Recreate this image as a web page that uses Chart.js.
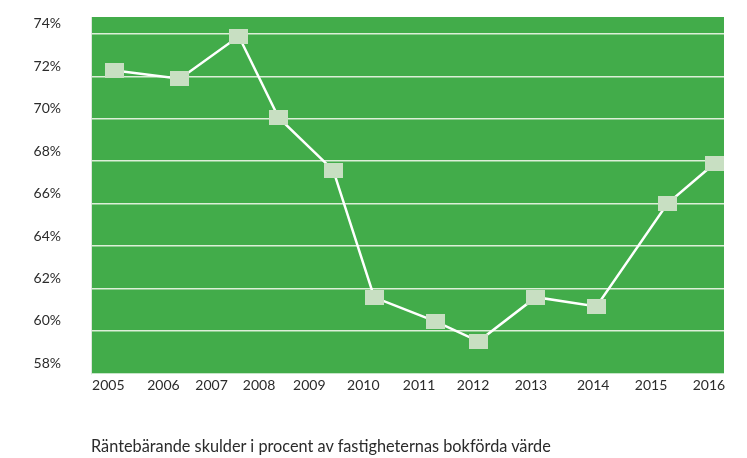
<!DOCTYPE html>
<html>
<head>
<meta charset="utf-8">
<script src="https://cdn.jsdelivr.net/npm/chart.js@4"></script>
<style>
  html, body { margin: 0; padding: 0; background: #ffffff; }
  #wrap { position: relative; width: 747px; height: 458px; }
  #caption { position: absolute; left: 91px; top: 436px; font-family: Lato, sans-serif; font-size: 16.3px; color: #2b2b2b; white-space: nowrap; line-height: 20px; }
</style>
</head>
<body>
<div id="wrap">
  <canvas id="c" width="747" height="458"></canvas>
  <div id="caption">Räntebärande skulder i procent av fastigheternas bokförda värde</div>
</div>
<script>
// Year labels on the x axis and where each label sits (in year units)
const years = ['2005','2006','2007','2008','2009','2010','2011','2012','2013','2014','2015','2016'];
const yearLabelPos = [2005, 2006.01, 2006.89, 2007.76, 2008.68, 2009.67, 2010.69, 2011.68, 2012.74, 2013.88, 2014.94, 2016];
// Where each data point sits along the x axis (in year units)
const pointPos = [2005.12, 2006.31, 2007.39, 2008.12, 2009.12, 2009.87, 2010.99, 2011.78, 2012.83, 2013.94, 2015.24, 2016.10];
// Interest-bearing debt as % of book value
const debtPct = [72.28, 71.89, 73.89, 70.05, 67.57, 61.58, 60.45, 59.51, 61.59, 61.15, 66.0, 67.89];
// Y tick labels
const yTicks = [58, 60, 62, 64, 66, 68, 70, 72, 74];

const GREEN = '#42ac4a';
const MARKER = '#c8dfc2';

// rectangular marker image
const marker = document.createElement('canvas');
marker.width = 19; marker.height = 15;
(function(){ const g = marker.getContext('2d'); g.fillStyle = MARKER; g.fillRect(0,0,19,15); })();

const plotBg = {
  id: 'plotBg',
  beforeDraw(chart) {
    const {ctx, chartArea: a} = chart;
    ctx.save();
    ctx.fillStyle = GREEN;
    ctx.fillRect(a.left, a.top, a.right - a.left, a.bottom - a.top);
    ctx.restore();
  }
};

new Chart(document.getElementById('c'), {
  type: 'line',
  data: {
    datasets: [{
      data: pointPos.map((x, i) => ({x: x, y: debtPct[i]})),
      borderColor: '#ffffff',
      borderWidth: 2.5,
      pointStyle: marker,
      pointRadius: 8,
      pointHoverRadius: 8,
      tension: 0,
      clip: false
    }]
  },
  options: {
    responsive: false,
    animation: false,
    events: [],
    layout: { padding: { left: 0, right: 23, top: 17, bottom: 54.7 } },
    plugins: { legend: { display: false }, tooltip: { enabled: false }, title: { display: false } },
    scales: {
      x: {
        type: 'linear',
        min: 2004.683,
        max: 2016.275,
        afterBuildTicks(scale) { scale.ticks = yearLabelPos.map(v => ({value: v})); },
        afterFit(scale) { scale.height = 30; scale.paddingLeft = 0; scale.paddingRight = 0; },
        grid: { display: false, drawTicks: false },
        border: { display: false },
        ticks: {
          autoSkip: false,
          maxRotation: 0,
          padding: 4,
          color: '#2b2b2b',
          font: { family: 'Lato', size: 14 },
          callback(value, index) { return years[index]; }
        }
      },
      y: {
        min: 58,
        max: 74.8,
        afterBuildTicks(scale) { scale.ticks = yTicks.map(v => ({value: v})); },
        afterFit(scale) { scale.width = 91; scale.paddingTop = 0; scale.paddingBottom = 0; },
        grid: {
          drawTicks: false,
          lineWidth: 1.5,
          color(ctx) { return ctx.tick && ctx.tick.value === 58 ? 'rgba(0,0,0,0)' : '#dcefd8'; }
        },
        border: { display: true, color: '#dde6dd', width: 1 },
        ticks: {
          padding: 30,
          labelOffset: -10,
          color: '#2b2b2b',
          font: { family: 'Lato', size: 14 },
          callback(value) { return value + '%'; }
        }
      }
    }
  },
  plugins: [plotBg]
});
</script>
</body>
</html>
